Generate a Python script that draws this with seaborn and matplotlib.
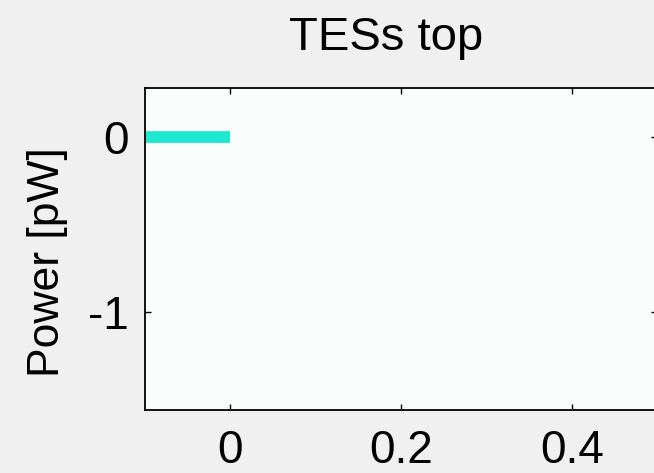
import matplotlib
matplotlib.use("Agg")
import matplotlib.pyplot as plt
import seaborn as sns
import pandas as pd

# Measured TES power trace (top detector)
time_s = [-0.1, 0.0]
power_pw = [0.0, 0.0]
x_ticks = [0, 0.2, 0.4]
x_tick_labels = ["0", "0.2", "0.4"]
y_ticks = [-1, 0]
y_tick_labels = ["-1", "0"]

sns.set_theme(style="ticks")
plt.rcParams["font.family"] = ["Liberation Sans", "DejaVu Sans"]

df = pd.DataFrame({"time": time_s, "power": power_pw})

fig = plt.figure(figsize=(6.54, 4.73), dpi=100, facecolor="#f0f0f0")
ax = fig.add_axes([144.5 / 654, 1 - 410 / 473, 513 / 654, 322 / 473])
ax.set_facecolor("#f9fefc")

sns.lineplot(data=df, x="time", y="power", ax=ax, color="#1fe8d0",
             linewidth=8.5, solid_capstyle="butt", legend=False)

ax.set_xlim(-0.1, 0.5)
ax.set_ylim(-1.56, 0.28)
ax.set_xticks(x_ticks)
ax.set_xticklabels(x_tick_labels)
ax.set_yticks(y_ticks)
ax.set_yticklabels(y_tick_labels)

for side in ["left", "right", "top", "bottom"]:
    ax.spines[side].set_visible(True)
    ax.spines[side].set_color("black")
    ax.spines[side].set_linewidth(1.3)

ax.tick_params(axis="x", direction="in", length=4.5, width=1.0, top=True,
               labelsize=33, pad=13.5, colors="black")
ax.tick_params(axis="y", direction="in", length=4.5, width=1.0, right=True,
               labelsize=33, pad=11.5, colors="black")

ax.set_xlabel("")
ax.set_ylabel("Power [pW]", fontsize=32, color="black")
ax.yaxis.set_label_coords(-0.149, 0.46)

fig.text(386 / 654, 1 - 50 / 473, "TESs top", fontsize=34, ha="center",
         va="baseline", color="black")

fig.savefig("out.png", dpi=100, facecolor=fig.get_facecolor())
